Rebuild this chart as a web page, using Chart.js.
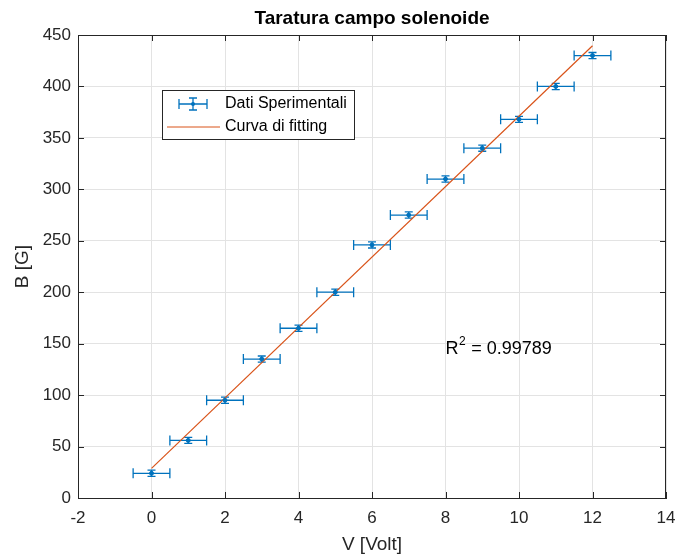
<!DOCTYPE html>
<html>
<head>
<meta charset="utf-8">
<script src="https://cdn.jsdelivr.net/npm/chart.js@4.4.1/dist/chart.umd.min.js"></script>
<style>
  html, body { margin: 0; padding: 0; background: #ffffff; }
  #wrap { width: 677px; height: 554px; }
</style>
</head>
<body>
<div id="wrap"><canvas id="grafico"></canvas></div>
<script>
// dati
const tensione = [0, 1, 2, 3, 4, 5, 6, 7, 8, 9, 10, 11, 12];
const campo = [24, 56, 95, 135, 165, 200, 246, 275, 310, 340, 368, 400, 430];
const errTensione = [0.5, 0.5, 0.5, 0.5, 0.5, 0.5, 0.5, 0.5, 0.5, 0.5, 0.5, 0.5, 0.5];
const errCampo = [3, 3, 3, 3, 3, 3, 3, 3, 3, 3, 3, 3, 3];
const fitX = [0, 12];
const fitY = [28.8, 439.5];
const xTicks = [-2, 0, 2, 4, 6, 8, 10, 12, 14];
const yTicks = [0, 50, 100, 150, 200, 250, 300, 350, 400, 450];

const BLU = '#0072BD';
const ARANCIO = '#D95319';
const TESTO = '#262626';
const FONT = "'Liberation Sans', Arial, sans-serif";

let puntiDati = tensione.map(function (v, i) {
    return { x: v, y: campo[i], ex: errTensione[i], ey: errCampo[i] };
});
let puntiFit = fitX.map(function (v, i) {
    return { x: v, y: fitY[i] };
});

// barre di errore, bordo, tacche, legenda e testo R^2
const pluginExtra = {
    id: 'extra',
    beforeDatasetsDraw(chart) {
        const ctx = chart.ctx;
        const xs = chart.scales.x;
        const ys = chart.scales.y;
        const dati = chart.data.datasets[0].data;
        ctx.save();
        ctx.strokeStyle = BLU;
        ctx.lineWidth = 1.3;
        dati.forEach(function (p) {
            let px = xs.getPixelForValue(p.x);
            let py = ys.getPixelForValue(p.y);
            let x1 = xs.getPixelForValue(p.x - p.ex);
            let x2 = xs.getPixelForValue(p.x + p.ex);
            let y1 = ys.getPixelForValue(p.y - p.ey);
            let y2 = ys.getPixelForValue(p.y + p.ey);
            ctx.beginPath();
            ctx.moveTo(x1, py); ctx.lineTo(x2, py);
            ctx.moveTo(x1, py - 5); ctx.lineTo(x1, py + 5);
            ctx.moveTo(x2, py - 5); ctx.lineTo(x2, py + 5);
            ctx.moveTo(px, y1); ctx.lineTo(px, y2);
            ctx.moveTo(px - 4, y1); ctx.lineTo(px + 4, y1);
            ctx.moveTo(px - 4, y2); ctx.lineTo(px + 4, y2);
            ctx.stroke();
        });
        ctx.restore();
    },
    afterDraw(chart) {
        const ctx = chart.ctx;
        const a = chart.chartArea;
        const xs = chart.scales.x;
        const ys = chart.scales.y;
        ctx.save();
        // riquadro
        ctx.strokeStyle = TESTO;
        ctx.lineWidth = 1;
        ctx.strokeRect(a.left + 0.5, a.top + 0.5, a.right - a.left - 1, a.bottom - a.top);
        // tacche interne
        ctx.beginPath();
        xTicks.forEach(function (t) {
            let px = Math.round(xs.getPixelForValue(t)) + 0.5;
            ctx.moveTo(px, a.bottom); ctx.lineTo(px, a.bottom - 6);
            ctx.moveTo(px, a.top); ctx.lineTo(px, a.top + 6);
        });
        yTicks.forEach(function (t) {
            let py = Math.round(ys.getPixelForValue(t)) + 0.5;
            ctx.moveTo(a.left, py); ctx.lineTo(a.left + 6, py);
            ctx.moveTo(a.right, py); ctx.lineTo(a.right - 6, py);
        });
        ctx.stroke();

        // legenda
        let lx = 162, ly = 90, lw = 192, lh = 49;
        ctx.fillStyle = '#ffffff';
        ctx.fillRect(lx, ly, lw, lh);
        ctx.strokeStyle = TESTO;
        ctx.strokeRect(lx + 0.5, ly + 0.5, lw, lh);
        ctx.strokeStyle = BLU;
        ctx.lineWidth = 1.3;
        ctx.beginPath();
        ctx.moveTo(179, 104); ctx.lineTo(207, 104);
        ctx.moveTo(179, 99); ctx.lineTo(179, 109);
        ctx.moveTo(207, 99); ctx.lineTo(207, 109);
        ctx.moveTo(193, 98); ctx.lineTo(193, 110);
        ctx.moveTo(189, 98); ctx.lineTo(197, 98);
        ctx.moveTo(189, 110); ctx.lineTo(197, 110);
        ctx.stroke();
        ctx.fillStyle = BLU;
        ctx.beginPath();
        ctx.arc(193, 104, 2, 0, Math.PI * 2);
        ctx.fill();
        ctx.strokeStyle = ARANCIO;
        ctx.lineWidth = 1;
        ctx.beginPath();
        ctx.moveTo(167, 127); ctx.lineTo(220, 127);
        ctx.stroke();
        ctx.fillStyle = '#000000';
        ctx.font = '16px ' + FONT;
        ctx.textBaseline = 'middle';
        ctx.textAlign = 'left';
        ctx.fillText('Dati Sperimentali', 225, 104);
        ctx.fillText('Curva di fitting', 225, 127);

        // R^2
        let rx = xs.getPixelForValue(8);
        let ry = ys.getPixelForValue(145);
        ctx.font = '18px ' + FONT;
        ctx.fillText('R', rx, ry);
        let w = ctx.measureText('R').width;
        ctx.font = '12px ' + FONT;
        ctx.fillText('2', rx + w + 0.5, ry - 7);
        let w2 = ctx.measureText('2').width;
        ctx.font = '18px ' + FONT;
        ctx.fillText(' = 0.99789', rx + w + w2 + 1, ry);
        ctx.restore();
    }
};

const config = {
    type: 'scatter',
    data: {
        datasets: [{
            label: 'Dati Sperimentali',
            data: puntiDati,
            backgroundColor: BLU,
            borderColor: BLU,
            pointRadius: 2,
            pointHoverRadius: 2,
            showLine: false
        },
        {
            label: 'Curva di fitting',
            data: puntiFit,
            borderColor: ARANCIO,
            borderWidth: 1.2,
            pointRadius: 0,
            showLine: true,
            fill: false
        }]
    },
    plugins: [pluginExtra],
    options: {
        responsive: true,
        maintainAspectRatio: false,
        animation: false,
        layout: { padding: { left: 0, right: 11, top: 0, bottom: 0 } },
        plugins: {
            legend: { display: false },
            tooltip: { enabled: false },
            title: {
                display: true,
                fullSize: false,
                text: 'Taratura campo solenoide',
                color: '#000000',
                font: { family: FONT, size: 19, weight: 'bold' },
                padding: { top: 7, bottom: 5.2 }
            }
        },
        scales: {
            x: {
                type: 'linear',
                min: -2,
                max: 14,
                afterBuildTicks: function (scale) {
                    scale.ticks = xTicks.map(function (v) { return { value: v }; });
                },
                afterFit: function (scale) {
                    scale.height = 56;
                    scale.paddingRight = 0;
                    scale.paddingLeft = 0;
                },
                ticks: {
                    color: TESTO,
                    font: { family: FONT, size: 17 },
                    padding: 10
                },
                grid: { color: '#e3e3e3', drawTicks: false },
                border: { color: TESTO },
                title: {
                    display: true,
                    text: 'V [Volt]',
                    color: TESTO,
                    font: { family: FONT, size: 19 },
                    padding: { top: 0, bottom: -2 }
                }
            },
            y: {
                type: 'linear',
                min: 0,
                max: 450,
                afterBuildTicks: function (scale) {
                    scale.ticks = yTicks.map(function (v) { return { value: v }; });
                },
                afterFit: function (scale) { scale.width = 78; },
                ticks: {
                    color: TESTO,
                    font: { family: FONT, size: 17 },
                    padding: 7
                },
                grid: { color: '#e3e3e3', drawTicks: false },
                border: { color: TESTO },
                title: {
                    display: true,
                    text: 'B [G]',
                    color: TESTO,
                    font: { family: FONT, size: 19 },
                    padding: { top: 11.3, bottom: 0 }
                }
            }
        }
    }
};

let grafico = new Chart(document.getElementById('grafico'), config);
</script>
</body>
</html>
